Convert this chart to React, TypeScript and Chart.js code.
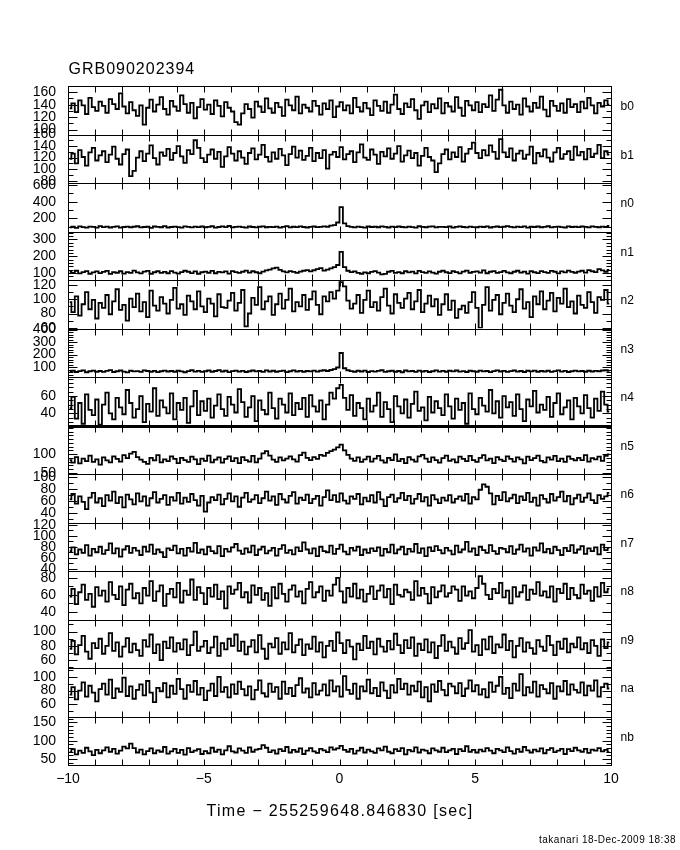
import React, { useEffect, useRef } from "react";
import { Chart, registerables } from "chart.js";

Chart.register(...registerables);

const FONT = "'Liberation Sans', 'DejaVu Sans', sans-serif";
const TITLE = "GRB090202394";
const X_TITLE = "Time \u2212 255259648.846830 [sec]";
const FOOTER = "takanari 18-Dec-2009 18:38";

const T_START = -10;
const BIN_WIDTH = 0.125;
const X_MIN = -10;
const X_MAX = 10;
const X_TICKS = [-10, -5, 0, 5, 10];

const PANEL_NAMES = ["b0", "b1", "n0", "n1", "n2", "n3", "n4", "n5", "n6", "n7", "n8", "n9", "na", "nb"];

const B0 = [134,142,128,147,139,125,151,136,130,145, 138,127,149,141,133,158,137,126,144,131, 122,139,108,135,148,129,140,152,133,124, 146,137,130,155,141,127,143,118,136,149, 132,140,125,147,138,121,144,135,129,112, 108,126,141,133,119,145,137,128,150,134, 127,143,136,122,148,139,131,153,126,140, 135,129,146,138,124,142,133,147,120,137, 144,131,139,126,151,136,129,143,134,123, 147,138,130,145,127,140,156,133,125,142, 136,149,131,117,139,145,128,141,134,150, 126,143,137,129,152,135,122,146,139,131, 144,128,141,136,155,130,148,164,139,127, 145,133,140,124,150,137,129,143,135,153, 132,121,146,138,130,142,127,149,136,141, 128,145,134,151,139,126,143,137,147,140];
const B1 = [118,127,110,133,121,106,129,137,115,124, 131,112,125,139,118,108,126,134,88,97, 120,131,114,127,141,119,108,129,123,135, 116,128,140,122,111,133,126,150,137,119, 112,125,134,118,130,104,122,138,127,115, 131,120,109,128,136,117,125,142,121,113, 129,118,135,124,107,126,139,120,132,116, 123,137,114,128,119,133,101,125,130,121, 138,117,126,131,112,129,143,120,116,134, 125,109,130,122,136,118,127,140,113,124, 132,119,128,106,123,137,121,115,95,110, 126,134,117,129,121,138,113,127,135,146, 128,119,133,124,141,130,118,152,129,121, 136,115,127,132,118,125,139,110,128,122, 134,120,113,129,137,118,126,131,116,139, 124,130,117,135,121,127,142,119,131,125];
const N0 = [92,99,86,104,95,89,101,97,88,106, 94,100,90,97,103,88,96,101,93,99, 105,91,96,99,86,102,97,93,107,90, 96,101,94,88,104,97,92,100,95,102, 93,98,105,89,96,103,95,108,91,97, 100,94,89,102,96,91,99,104,93,98, 95,101,88,97,106,92,99,94,103,96, 90,98,102,95,97,104,99,112,118,150, 335,140,106,98,92,101,95,88,102,96, 99,93,104,97,90,100,94,102,96,91, 101,95,88,105,97,93,100,103,91,97, 98,94,102,89,97,104,96,92,101,95, 93,100,96,103,90,98,102,94,99,106, 97,91,100,95,104,88,99,96,102,93, 98,105,92,97,101,94,90,103,96,99, 95,102,97,91,104,98,93,100,96,108];
const N1 = [108,101,114,98,106,112,96,104,110,100, 107,113,95,105,102,111,97,106,101,115, 104,98,109,113,96,105,111,101,107,99, 112,103,97,106,114,108,100,110,96,105, 109,102,113,99,107,104,110,97,112,106, 101,108,115,103,111,105,99,109,116,121, 128,132,119,110,104,112,107,101,109,114, 118,110,117,124,130,115,121,128,136,148, 226,135,114,106,110,101,96,104,99,107, 112,103,92,95,108,113,101,106,99,111, 104,109,98,113,106,101,110,103,97,108, 114,105,100,111,106,98,109,115,102,107, 110,103,116,99,108,112,101,106,113,104, 99,108,114,103,109,97,111,105,100,112, 106,101,113,108,98,110,104,115,107,102, 109,114,103,118,111,106,124,116,108,119];
const N2 = [96,82,104,77,93,110,86,99,73,95, 88,106,79,97,114,85,92,70,101,89, 108,83,96,75,112,91,84,103,94,80, 99,116,87,93,78,105,97,86,111,90, 82,101,94,76,107,89,88,98,109,84, 95,113,62,80,102,92,117,86,97,104, 78,93,108,87,99,115,83,96,90,106, 85,100,111,92,79,104,97,110,101,112, 124,118,98,87,94,106,81,99,112,89, 96,84,103,115,91,80,107,95,88,101, 109,86,97,113,82,94,105,90,100,78, 93,107,85,98,74,86,91,81,96,110, 88,60,92,117,84,99,106,79,95,108, 91,82,100,114,87,96,75,104,93,111, 86,98,109,83,102,94,115,89,97,80, 105,92,88,110,96,81,103,99,113,94];
const N3 = [64,70,60,67,73,58,66,71,62,68, 61,69,75,60,66,72,63,57,70,65, 67,61,73,68,62,69,59,66,71,64, 68,62,70,65,58,67,74,63,69,61, 66,72,62,68,75,64,70,59,67,71, 63,69,60,66,72,65,68,61,73,64, 70,62,67,71,59,66,73,64,69,62, 68,65,71,63,70,74,68,76,83,96, 212,90,74,67,62,70,64,71,60,67, 63,69,74,61,66,70,62,68,58,72, 65,68,61,71,64,69,60,66,73,63, 69,62,70,65,72,63,67,60,70,66, 62,71,65,68,59,67,73,64,69,61, 67,72,63,68,60,70,65,71,62,68, 64,70,61,67,73,63,69,60,66,71, 65,68,62,70,64,69,66,72,74,70];
const N4 = [46,59,34,52,28,62,44,38,56,27, 50,64,40,33,58,47,39,67,52,35, 45,60,30,51,42,69,37,55,47,40, 63,33,52,44,58,29,48,66,38,54, 43,57,35,49,62,45,37,59,50,41, 68,53,36,47,60,31,55,44,39,64, 46,34,57,50,41,63,38,52,45,58, 36,61,48,42,55,33,50,64,57,69, 73,58,44,61,37,52,46,33,57,42, 49,64,36,53,45,30,60,48,40,56, 35,51,65,43,47,32,59,41,54,46, 38,62,48,34,57,44,52,28,63,45, 39,58,49,42,67,40,54,35,60,47, 53,37,62,45,31,56,48,66,41,50, 44,59,36,52,63,39,47,55,33,58, 48,40,61,46,35,57,43,65,50,42];
const N5 = [84,77,92,75,88,81,96,79,86,72, 91,83,78,94,87,80,97,89,101,106, 92,85,79,74,90,83,97,78,86,81, 94,87,76,90,84,79,93,86,73,88, 82,96,78,85,91,77,87,94,81,89, 76,92,84,80,95,78,88,102,108,96, 85,79,91,83,88,94,86,80,97,104, 90,84,92,87,98,95,103,108,112,118, 125,110,98,88,82,91,79,86,93,80, 88,95,83,77,90,84,99,81,87,76, 92,85,80,94,98,88,79,91,84,77, 89,96,82,86,78,93,87,81,95,84, 79,90,97,83,88,76,92,85,81,94, 87,80,91,86,75,93,84,89,96,82, 78,91,85,95,81,88,79,94,87,83, 90,84,97,80,89,86,93,82,95,99];
const N6 = [63,72,56,68,59,47,66,74,58,65, 52,70,61,76,57,67,50,71,63,55, 73,60,68,53,65,75,58,64,70,54, 67,61,74,56,66,59,72,62,53,69, 43,58,67,62,71,55,64,73,60,68, 51,66,74,59,63,70,57,65,76,61, 68,54,72,63,58,69,75,56,66,62, 71,57,64,69,53,67,78,62,70,59, 73,61,56,68,64,72,55,66,60,70, 58,75,63,52,67,71,59,65,74,62, 69,56,64,72,60,67,53,70,63,57, 66,61,70,58,64,68,61,72,56,67, 63,79,88,84,73,55,69,62,75,60, 65,71,57,68,62,74,59,66,53,70, 64,58,72,61,67,76,60,69,55,65, 71,59,66,73,62,57,70,64,68,74];
const N7 = [72,79,66,75,69,83,64,76,70,80, 67,74,86,68,77,62,75,81,69,78, 73,65,80,71,84,67,75,70,61,77, 74,82,68,76,64,78,71,87,69,75, 66,80,72,68,81,63,76,71,79,85, 73,67,77,70,82,65,75,80,68,73, 78,64,76,83,69,74,66,79,72,88, 75,68,77,63,80,72,70,82,67,76, 84,71,66,78,73,80,65,75,69,77, 72,79,64,76,70,84,68,75,80,66, 76,71,85,69,77,63,79,72,81,74, 68,78,73,66,82,70,75,89,71,77, 65,80,74,69,83,72,67,78,76,70, 81,67,75,84,71,77,64,79,73,86, 70,76,68,80,74,65,78,72,83,69, 75,81,67,77,72,79,66,84,74,78];
const N8 = [58,67,49,63,72,54,61,46,69,59, 65,52,75,60,55,70,48,66,73,56, 62,50,68,59,76,53,64,71,47,61, 67,57,74,51,65,60,78,54,69,62, 49,68,58,72,55,64,44,70,61,66, 74,57,63,51,71,60,68,54,62,47, 69,56,73,61,52,66,71,58,64,50, 67,75,57,63,70,53,65,59,72,80, 64,51,68,58,73,56,66,52,61,70, 55,65,71,57,67,49,72,60,58,66, 63,54,76,59,68,61,50,69,57,64, 71,58,62,70,66,53,70,59,64,56, 68,82,73,60,55,67,62,74,57,65, 50,69,58,63,71,54,66,61,75,59, 64,57,70,52,67,62,73,55,68,60, 56,72,61,65,53,69,58,74,63,67];
const N9 = [76,87,68,81,94,72,62,84,77,90, 69,80,98,73,85,65,79,91,71,83, 74,66,88,79,96,70,82,60,86,77, 92,72,84,75,89,67,81,100,73,79, 87,70,78,93,66,84,75,90,80,96, 73,86,68,79,88,71,95,76,62,83, 78,91,69,85,75,98,71,81,89,67, 82,76,93,72,85,64,80,87,73,99, 84,70,88,79,61,83,74,94,77,86, 68,90,79,72,87,75,97,81,70,88, 77,92,66,83,74,89,71,85,63,80, 95,73,86,78,69,91,76,84,102,72, 81,67,89,75,93,70,82,78,96,74, 87,64,80,91,72,85,77,69,88,79, 73,94,81,67,86,76,90,71,83,78, 92,75,84,70,88,80,66,89,77,85];
const NA = [74,85,67,80,92,71,87,77,64,82, 90,74,96,69,83,78,99,72,86,68, 81,89,73,94,77,63,84,79,91,70, 87,75,97,82,68,88,78,94,74,84, 66,80,90,72,100,78,85,70,89,75, 93,82,73,86,67,81,95,76,71,90, 78,85,68,93,75,84,72,88,98,77, 83,70,91,74,80,89,73,95,79,86, 71,101,81,75,90,68,86,79,96,76, 84,72,92,80,69,88,77,97,82,90, 74,87,79,93,70,85,64,89,78,94, 81,73,90,86,76,91,72,83,95,79, 88,74,82,70,92,78,87,100,75,84, 69,90,80,104,73,85,77,93,71,88, 82,76,91,68,86,79,94,74,89,81, 77,92,73,87,80,95,71,85,90,83];
const NB = [69,77,63,73,67,81,71,61,75,66, 74,82,70,78,65,73,84,79,92,80, 68,76,63,72,79,66,74,70,83,65, 71,78,67,75,62,80,69,73,77,64, 72,66,81,70,76,63,74,85,71,68, 79,73,67,82,70,76,78,88,81,69, 74,65,77,72,83,68,75,70,79,64, 73,80,71,67,78,74,69,82,76,79, 86,75,70,78,65,73,81,68,76,71, 67,79,74,84,70,66,77,72,80,63, 75,71,82,68,76,73,66,79,74,70, 81,69,74,78,64,77,72,85,70,75, 68,76,71,80,73,66,78,74,69,82, 72,65,77,70,83,74,68,76,71,79, 66,75,80,69,73,78,64,77,72,81, 74,70,78,67,76,73,80,71,75,69];

const PANEL_VALUES = [B0, B1, N0, N1, N2, N3, N4, N5, N6, N7, N8, N9, NA, NB];
const Y_MIN = [92, 76, 42, 59, 59, 20, 26, 47, 25, 36, 31, 49, 42, 34];
const Y_MAX = [170, 160, 624, 347, 127, 408, 82, 176, 105, 124, 88, 117, 113, 166];
const Y_TICKS = [
  [100, 120, 140, 160],
  [80, 100, 120, 140, 160],
  [200, 400, 600],
  [100, 200, 300],
  [60, 80, 100, 120],
  [100, 200, 300, 400],
  [40, 60],
  [50, 100],
  [40, 60, 80, 100],
  [40, 60, 80, 100, 120],
  [40, 60, 80],
  [60, 80, 100],
  [60, 80, 100],
  [50, 100, 150],
];
const Y_MINOR = [10, 10, 100, 20, 10, 20, 5, 10, 10, 10, 10, 10, 10, 10];

const fmt = (v: number) => (v < 0 ? "\u2212" + String(-v) : String(v));

const panelPlugin = {
  id: "panelFrames",
  beforeDatasetDraw(chart: any, args: any) {
    const ys = args.meta.yScale;
    const ca = chart.chartArea;
    const ctx = chart.ctx;
    ctx.save();
    ctx.beginPath();
    ctx.rect(ca.left, ys.top, ca.right - ca.left, ys.bottom - ys.top);
    ctx.clip();
  },
  afterDatasetDraw(chart: any) {
    chart.ctx.restore();
  },
  afterDraw(chart: any) {
    const ctx = chart.ctx;
    const ca = chart.chartArea;
    const xs = chart.scales.x;
    const L = Math.round(ca.left) + 0.5;
    const R = Math.round(ca.right) + 0.5;
    ctx.save();
    ctx.strokeStyle = "#000";
    ctx.fillStyle = "#000";
    ctx.lineWidth = 1;
    PANEL_NAMES.forEach((name, k) => {
      const ys = chart.scales["y" + k];
      const top = Math.round(ys.top) + 0.5;
      const bottom = Math.round(ys.bottom) + 0.5;
      ctx.lineWidth = 1;
      ctx.strokeRect(L, top, R - L, bottom - top);
      if (name === "n4") {
        ctx.lineWidth = 3;
        ctx.beginPath();
        ctx.moveTo(L, bottom);
        ctx.lineTo(R, bottom);
        ctx.stroke();
        ctx.lineWidth = 1;
      }
      ctx.beginPath();
      for (let t = X_MIN; t <= X_MAX; t += 1) {
        const px = Math.round(xs.getPixelForValue(t)) + 0.5;
        ctx.moveTo(px, top);
        ctx.lineTo(px, top + 6);
        ctx.moveTo(px, bottom);
        ctx.lineTo(px, bottom - 6);
      }
      const step = Y_MINOR[k];
      for (let v = Math.ceil(Y_MIN[k] / step) * step; v <= Y_MAX[k]; v += step) {
        const py = Math.round(ys.getPixelForValue(v)) + 0.5;
        const len = Y_TICKS[k].includes(v) ? 9 : 5;
        ctx.moveTo(L, py);
        ctx.lineTo(L + len, py);
        ctx.moveTo(R, py);
        ctx.lineTo(R - len, py);
      }
      ctx.stroke();
      ctx.font = `12px ${FONT}`;
      ctx.textAlign = "left";
      ctx.textBaseline = "middle";
      ctx.fillText(name, R + 9, (top + bottom) / 2 - 4);
    });

    const c: any = ctx;
    ctx.textBaseline = "middle";
    ctx.font = `16px ${FONT}`;
    ctx.textAlign = "left";
    c.letterSpacing = "1px";
    ctx.fillText(TITLE, L, 70);
    ctx.textAlign = "center";
    c.letterSpacing = "1.3px";
    ctx.fillText(X_TITLE, (L + R) / 2, 812);
    ctx.textAlign = "right";
    ctx.font = `10px ${FONT}`;
    c.letterSpacing = "0.5px";
    ctx.fillText(FOOTER, 676, 840);
    c.letterSpacing = "0px";
    ctx.restore();
  },
};

export default function App() {
  const canvasRef = useRef<HTMLCanvasElement | null>(null);

  useEffect(() => {
    const canvas = canvasRef.current;
    if (!canvas) return;
    const N = PANEL_NAMES.length;
    const scales: any = {
      x: {
        type: "linear",
        position: "bottom",
        min: X_MIN,
        max: X_MAX,
        afterBuildTicks: (s: any) => {
          s.ticks = X_TICKS.map((v) => ({ value: v }));
        },
        afterFit: (s: any) => {
          s.height = 85;
        },
        ticks: {
          autoSkip: false,
          maxRotation: 0,
          padding: 6,
          color: "#000",
          font: { family: FONT, size: 14 },
          callback: (v: any) => fmt(Number(v)),
        },
        grid: { display: false, drawTicks: false },
        border: { display: false },
      },
    };
    PANEL_NAMES.forEach((name, k) => {
      scales["y" + k] = {
        type: "linear",
        position: "left",
        stack: "panels",
        stackWeight: 1,
        weight: N - k,
        min: Y_MIN[k],
        max: Y_MAX[k],
        afterBuildTicks: (s: any) => {
          s.ticks = Y_TICKS[k].map((v) => ({ value: v }));
        },
        afterFit: (s: any) => {
          s.width = 68;
        },
        ticks: {
          autoSkip: false,
          padding: 12,
          color: "#000",
          font: { family: FONT, size: 14 },
          callback: (v: any) => fmt(Number(v)),
        },
        grid: { display: false, drawTicks: false },
        border: { display: false },
      };
    });

    const chart = new Chart(canvas, {
      type: "line",
      data: {
        datasets: PANEL_VALUES.map((vals, k) => ({
          label: PANEL_NAMES[k],
          data: vals.map((v, i) => ({ x: T_START + BIN_WIDTH * (i + 0.5), y: v })),
          yAxisID: "y" + k,
          xAxisID: "x",
          borderColor: "#000",
          borderWidth: 1.8,
          pointRadius: 0,
          stepped: "middle",
          fill: false,
        })),
      },
      options: {
        responsive: false,
        maintainAspectRatio: false,
        animation: false,
        devicePixelRatio: 1,
        layout: { padding: { top: 86, left: 0, right: 69, bottom: 0 } },
        scales,
        plugins: {
          legend: { display: false },
          tooltip: { enabled: false },
          title: { display: false },
        },
      },
      plugins: [panelPlugin],
    } as any);
    return () => chart.destroy();
  }, []);

  return (
    <div style={{ position: "absolute", left: 0, top: 0, width: 680, height: 850, background: "#fff" }}>
      <canvas ref={canvasRef} width={680} height={850} style={{ display: "block" }} />
    </div>
  );
}
